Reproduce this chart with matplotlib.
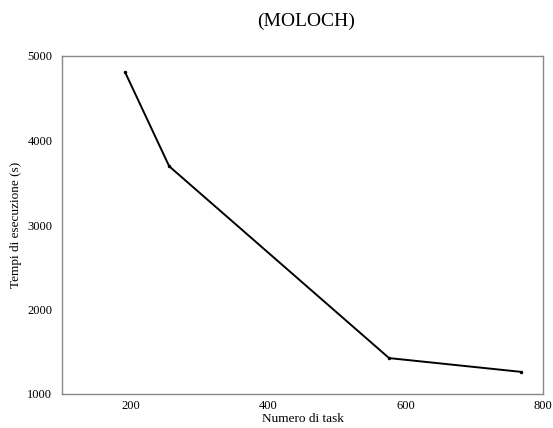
import matplotlib
matplotlib.use("Agg")
import matplotlib.pyplot as plt

tasks = [192, 256, 576, 768]
times = [4805, 3695, 1425, 1262]
xticks = [200, 400, 600, 800]
yticks = [1000, 2000, 3000, 4000, 5000]

plt.rcParams['font.family'] = ['Liberation Serif', 'DejaVu Serif']

fig = plt.figure(figsize=(5.53, 4.28), dpi=100)
ax = fig.add_axes([62/553, 1-394/428, (543-62)/553, (394-56)/428])
ax.plot(tasks, times, color='black', linewidth=1.4, marker='.', markersize=3)
ax.set_xlim(100, 800)
ax.set_ylim(1000, 5000)
ax.set_xticks(xticks)
ax.set_yticks(yticks)
ax.tick_params(length=0, labelsize=9)
ax.tick_params(axis='y', pad=7)
ax.tick_params(axis='x', pad=4)
for s in ax.spines.values():
    s.set_color('#888888')
    s.set_linewidth(1.0)
ax.set_xlabel('Numero di task', fontsize=9.5, labelpad=1)
ax.set_ylabel('Tempi di esecuzione (s)', fontsize=9.5, labelpad=4)
fig.text(306/553, 1-21/428, '(MOLOCH)', ha='center', va='center', fontsize=14)
fig.savefig('out.png', dpi=100)
